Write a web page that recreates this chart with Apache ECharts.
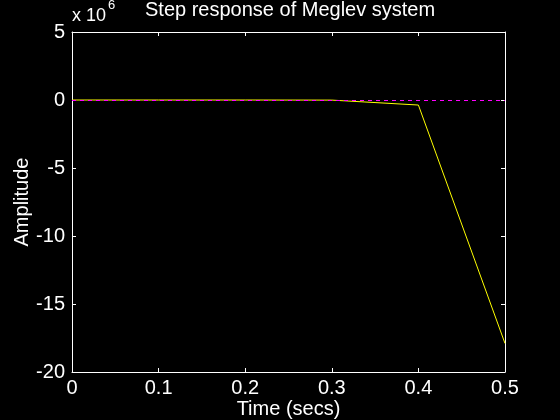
<!DOCTYPE html>
<html>
<head>
<meta charset="utf-8">
<script src="https://cdn.jsdelivr.net/npm/echarts@6/dist/echarts.min.js"></script>
<style>
html,body{margin:0;padding:0;background:#000;}
#chart{width:560px;height:420px;}
</style>
</head>
<body>
<div id="chart"></div>
<script>
// Data (amplitude in units of 1e6)
var time = [0, 0.1, 0.2, 0.3, 0.4, 0.5];
var amplitude = [0, 0, -0.0002, -0.008, -0.37, -17.9];
var referenceLevel = 0;
var xTicks = [0, 0.1, 0.2, 0.3, 0.4, 0.5];
var yTicks = [-20, -15, -10, -5, 0, 5];
var titleText = 'Step response of Meglev system';
var xLabel = 'Time (secs)';
var yLabel = 'Amplitude';
var scaleBase = 'x 10';
var scaleExp = '6';

var FONT = '"Liberation Sans", Arial, Helvetica, sans-serif';
var chart = echarts.init(document.getElementById('chart'));
var pts = time.map(function (t, i) { return [t, amplitude[i]]; });

var baseX = {
  type: 'value', min: xTicks[0], max: xTicks[xTicks.length - 1], interval: 0.1,
  axisLine: { show: true, onZero: false, lineStyle: { color: '#fff', width: 1 } },
  axisTick: { show: true, inside: true, length: 4, lineStyle: { color: '#fff' } },
  splitLine: { show: false }
};
var baseY = {
  type: 'value', min: yTicks[0], max: yTicks[yTicks.length - 1], interval: 5,
  axisLine: { show: true, onZero: false, lineStyle: { color: '#fff', width: 1 } },
  axisTick: { show: true, inside: true, length: 4, lineStyle: { color: '#fff' } },
  splitLine: { show: false }
};

chart.setOption({
  backgroundColor: '#000',
  animation: false,
  title: [
    {
      text: titleText, left: 145, top: 0, padding: 0,
      textStyle: { color: '#fff', fontSize: 20, fontWeight: 'normal', fontFamily: FONT }
    },
    {
      text: scaleBase, left: 72, top: 7, padding: 0,
      textStyle: { color: '#fff', fontSize: 18, fontWeight: 'normal', fontFamily: FONT }
    },
    {
      text: scaleExp, left: 108, top: -1, padding: 0,
      textStyle: { color: '#fff', fontSize: 13, fontWeight: 'normal', fontFamily: FONT }
    }
  ],
  grid: { left: 72, right: 55, top: 32, bottom: 48, containLabel: false, outerBoundsMode: 'none' },
  xAxis: [
    Object.assign({}, baseX, {
      position: 'bottom',
      name: xLabel, nameLocation: 'middle', nameGap: 27, nameMoveOverlap: false,
      nameTextStyle: { color: '#fff', fontSize: 20, fontFamily: FONT },
      axisLabel: { show: true, color: '#fff', fontSize: 20, fontFamily: FONT, margin: 6,
        formatter: function (v) { return String(Math.round(v * 10) / 10); } }
    }),
    Object.assign({}, baseX, { position: 'top', axisLabel: { show: false } })
  ],
  yAxis: [
    Object.assign({}, baseY, {
      position: 'left',
      name: yLabel, nameLocation: 'middle', nameGap: 40, nameRotate: 90, nameMoveOverlap: false,
      nameTextStyle: { color: '#fff', fontSize: 20, fontFamily: FONT },
      axisLabel: { show: true, color: '#fff', fontSize: 20, fontFamily: FONT, margin: 7 }
    }),
    Object.assign({}, baseY, { position: 'right', axisLabel: { show: false } })
  ],
  series: [
    {
      type: 'line', data: pts, showSymbol: false, symbol: 'none',
      lineStyle: { color: '#ffff00', width: 1 }, z: 2,
      markLine: {
        silent: true, symbol: 'none', label: { show: false },
        lineStyle: { color: '#ff00ff', width: 1, type: [4, 4] },
        data: [{ yAxis: referenceLevel }], z: 3
      }
    }
  ]
});
</script>
</body>
</html>
